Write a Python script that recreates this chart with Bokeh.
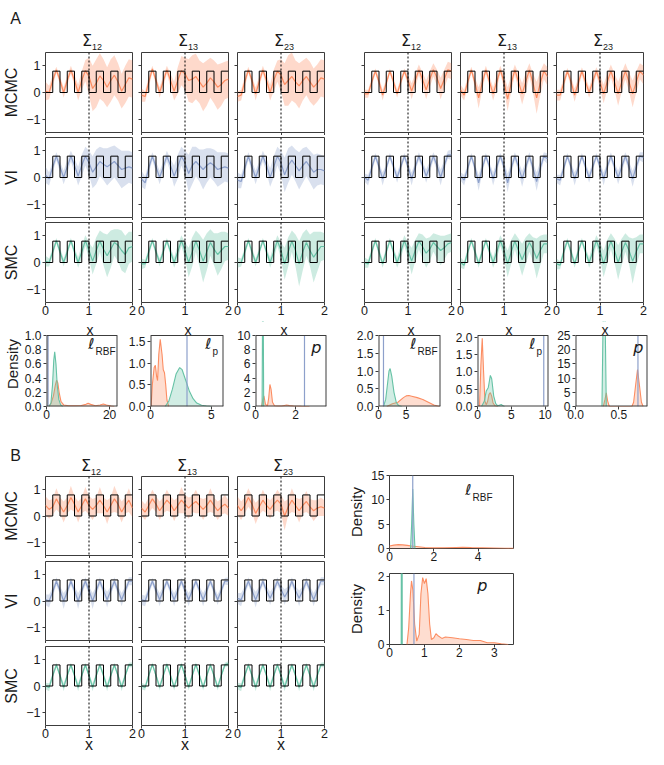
import math
from bokeh.plotting import figure
from bokeh.models import Range1d, FixedTicker, Span, Label
from bokeh.layouts import row, column
from bokeh.embed import file_html
from bokeh.resources import INLINE

ORANGE, GREEN, BLUE = "#fc8d62", "#66c2a5", "#8da0cb"
FRAME = "#3c3c3c"
INK = "#1a1a1a"
FONT = "Liberation Sans"
MATH = "DejaVu Sans"

# ---------------- data ----------------
X_GRID = [round(k / 12, 5) for k in range(25)]
TRUTH_X = [0, 1/6, 1/3, 1/2, 2/3, 5/6, 1, 7/6, 4/3, 3/2, 5/3, 11/6, 2]
TRUTH_Y = [0, 0.8, 0, 0.8, 0, 0.8, 0, 0.8, 0, 0.8, 0, 0.8, 0.8]
METHODS = ["MCMC", "VI", "SMC"]
METHOD_COLORS = [ORANGE, BLUE, GREEN]
SIGMA_SUBS = ["12", "13", "23"]

# Panel A, left dataset: [Σ12, Σ13, Σ23]
MEAN_A1_MCMC = [
    [0.05, 0.0, 0.45, 0.85, 0.45, 0.0, 0.45, 0.85, 0.45, 0.0, 0.45, 0.82, 0.6, 0.15, 0.35, 0.62, 0.45, 0.2, 0.45, 0.65, 0.4, 0.05, 0.3, 0.55, 0.5],
    [-0.1, -0.15, 0.4, 0.88, 0.45, 0.0, 0.42, 0.85, 0.45, 0.05, 0.45, 0.82, 0.7, 0.45, 0.5, 0.6, 0.4, 0.2, 0.35, 0.55, 0.4, 0.2, 0.3, 0.45, 0.5],
    [-0.15, -0.1, 0.4, 0.85, 0.45, -0.05, 0.4, 0.85, 0.45, 0.0, 0.45, 0.8, 0.65, 0.3, 0.45, 0.6, 0.4, 0.25, 0.45, 0.6, 0.4, 0.2, 0.35, 0.55, 0.5]]
HW_A1_MCMC = [
    [0.35, 0.25, 0.2, 0.12, 0.15, 0.2, 0.18, 0.15, 0.2, 0.3, 0.35, 0.4, 0.7, 0.85, 0.9, 0.85, 0.8, 0.75, 0.8, 0.75, 0.7, 0.65, 0.7, 0.7, 0.7],
    [0.25, 0.2, 0.2, 0.12, 0.15, 0.2, 0.2, 0.15, 0.25, 0.35, 0.5, 0.55, 0.6, 0.8, 0.9, 0.85, 0.8, 0.9, 0.85, 0.75, 0.8, 0.85, 0.8, 0.7, 0.7],
    [0.2, 0.2, 0.2, 0.12, 0.15, 0.25, 0.2, 0.15, 0.2, 0.3, 0.4, 0.4, 0.6, 0.8, 0.95, 0.9, 0.8, 0.85, 0.75, 0.7, 0.75, 0.7, 0.7, 0.7, 0.7]]
MEAN_A1_VI = [
    [0.1, -0.05, 0.4, 0.8, 0.4, 0.0, 0.4, 0.8, 0.45, 0.05, 0.45, 0.8, 0.55, 0.2, 0.4, 0.6, 0.5, 0.4, 0.5, 0.6, 0.45, 0.3, 0.35, 0.4, 0.35],
    [-0.05, -0.2, 0.35, 0.8, 0.4, 0.0, 0.4, 0.8, 0.45, 0.05, 0.4, 0.8, 0.55, 0.15, 0.45, 0.6, 0.45, 0.3, 0.45, 0.55, 0.45, 0.3, 0.35, 0.4, 0.35],
    [-0.1, -0.15, 0.35, 0.8, 0.4, 0.0, 0.4, 0.8, 0.45, 0.0, 0.4, 0.8, 0.55, 0.1, 0.45, 0.65, 0.45, 0.25, 0.45, 0.6, 0.4, 0.2, 0.3, 0.3, 0.25]]
HW_A1_VI = [
    [0.3, 0.25, 0.2, 0.15, 0.2, 0.25, 0.25, 0.2, 0.25, 0.35, 0.4, 0.35, 0.45, 0.6, 0.65, 0.55, 0.6, 0.7, 0.65, 0.6, 0.65, 0.7, 0.65, 0.6, 0.6],
    [0.3, 0.25, 0.2, 0.15, 0.2, 0.25, 0.2, 0.2, 0.25, 0.4, 0.45, 0.35, 0.45, 0.7, 0.7, 0.55, 0.6, 0.75, 0.65, 0.55, 0.6, 0.65, 0.6, 0.55, 0.55],
    [0.3, 0.25, 0.2, 0.15, 0.2, 0.25, 0.2, 0.2, 0.25, 0.35, 0.4, 0.35, 0.45, 0.65, 0.65, 0.55, 0.6, 0.7, 0.65, 0.55, 0.6, 0.65, 0.6, 0.55, 0.55]]
MEAN_A1_SMC = [
    [0.05, 0.0, 0.4, 0.82, 0.4, 0.0, 0.4, 0.82, 0.4, 0.0, 0.4, 0.82, 0.45, 0.05, 0.45, 0.8, 0.5, 0.25, 0.5, 0.75, 0.65, 0.45, 0.3, 0.55, 0.6],
    [-0.05, -0.05, 0.4, 0.82, 0.4, 0.0, 0.4, 0.82, 0.4, 0.0, 0.4, 0.82, 0.45, 0.0, 0.4, 0.8, 0.45, 0.05, 0.4, 0.75, 0.5, 0.3, 0.45, 0.6, 0.6],
    [0.0, 0.0, 0.4, 0.82, 0.4, 0.0, 0.4, 0.82, 0.4, 0.0, 0.4, 0.82, 0.45, -0.05, 0.4, 0.8, 0.45, -0.05, 0.4, 0.75, 0.45, 0.2, 0.4, 0.6, 0.6]]
HW_A1_SMC = [
    [0.2, 0.15, 0.15, 0.1, 0.15, 0.15, 0.15, 0.1, 0.15, 0.2, 0.25, 0.2, 0.3, 0.5, 0.5, 0.4, 0.6, 0.8, 0.7, 0.5, 0.6, 0.75, 0.7, 0.6, 0.55],
    [0.2, 0.15, 0.15, 0.1, 0.15, 0.15, 0.15, 0.1, 0.15, 0.2, 0.25, 0.2, 0.3, 0.55, 0.55, 0.4, 0.6, 0.8, 0.7, 0.5, 0.6, 0.8, 0.7, 0.55, 0.5],
    [0.2, 0.15, 0.15, 0.1, 0.15, 0.15, 0.15, 0.1, 0.15, 0.2, 0.25, 0.2, 0.3, 0.6, 0.55, 0.4, 0.6, 0.85, 0.7, 0.5, 0.6, 0.95, 0.75, 0.55, 0.5]]

# Panel A, right dataset
MEAN_A2_MCMC = [
    [-0.05, -0.05, 0.4, 0.8, 0.4, -0.1, 0.35, 0.8, 0.4, -0.05, 0.4, 0.8, 0.45, 0.05, 0.45, 0.85, 0.5, 0.1, 0.5, 0.85, 0.55, 0.15, 0.5, 0.85, 0.8],
    [0.1, -0.1, 0.4, 0.85, 0.35, -0.2, 0.35, 0.85, 0.4, -0.05, 0.4, 0.85, 0.4, -0.25, 0.35, 0.85, 0.4, -0.05, 0.4, 0.85, 0.35, -0.2, 0.35, 0.8, 0.6],
    [-0.1, -0.1, 0.35, 0.8, 0.4, -0.1, 0.35, 0.8, 0.4, 0.0, 0.4, 0.8, 0.4, -0.05, 0.4, 0.8, 0.4, -0.05, 0.4, 0.8, 0.4, -0.05, 0.4, 0.8, 0.65]]
HW_A2_MCMC = [
    [0.15, 0.15, 0.15, 0.1, 0.15, 0.2, 0.15, 0.1, 0.15, 0.15, 0.15, 0.1, 0.2, 0.3, 0.25, 0.2, 0.25, 0.35, 0.3, 0.25, 0.3, 0.4, 0.35, 0.3, 0.3],
    [0.2, 0.2, 0.2, 0.12, 0.2, 0.4, 0.25, 0.15, 0.2, 0.25, 0.25, 0.15, 0.25, 0.45, 0.3, 0.2, 0.3, 0.4, 0.35, 0.25, 0.35, 0.6, 0.45, 0.3, 0.35],
    [0.2, 0.2, 0.2, 0.12, 0.2, 0.25, 0.2, 0.15, 0.2, 0.2, 0.2, 0.15, 0.25, 0.35, 0.3, 0.25, 0.3, 0.45, 0.35, 0.3, 0.35, 0.5, 0.4, 0.3, 0.35]]
MEAN_A2_VI = [
    [0.0, -0.1, 0.35, 0.8, 0.4, -0.05, 0.35, 0.8, 0.4, 0.0, 0.4, 0.8, 0.4, -0.05, 0.4, 0.8, 0.45, 0.05, 0.4, 0.8, 0.45, 0.0, 0.45, 0.85, 0.85],
    [0.05, -0.1, 0.35, 0.8, 0.35, -0.2, 0.35, 0.8, 0.4, -0.05, 0.4, 0.8, 0.4, -0.2, 0.35, 0.8, 0.4, -0.05, 0.4, 0.8, 0.35, -0.15, 0.35, 0.8, 0.7],
    [-0.05, -0.1, 0.35, 0.8, 0.4, -0.05, 0.35, 0.8, 0.4, 0.0, 0.4, 0.8, 0.4, -0.05, 0.4, 0.8, 0.4, 0.0, 0.4, 0.8, 0.4, -0.05, 0.4, 0.8, 0.75]]
HW_A2_VI = [
    [0.15, 0.2, 0.15, 0.12, 0.15, 0.25, 0.15, 0.12, 0.15, 0.2, 0.15, 0.12, 0.15, 0.25, 0.15, 0.15, 0.15, 0.25, 0.2, 0.15, 0.2, 0.3, 0.2, 0.15, 0.2],
    [0.15, 0.2, 0.15, 0.12, 0.15, 0.3, 0.2, 0.12, 0.15, 0.25, 0.2, 0.12, 0.2, 0.35, 0.2, 0.15, 0.2, 0.3, 0.2, 0.15, 0.2, 0.35, 0.25, 0.15, 0.2],
    [0.15, 0.2, 0.15, 0.12, 0.15, 0.25, 0.15, 0.12, 0.15, 0.2, 0.15, 0.12, 0.15, 0.25, 0.15, 0.15, 0.15, 0.25, 0.2, 0.15, 0.2, 0.3, 0.2, 0.15, 0.2]]
MEAN_A2_SMC = [
    [0.0, -0.05, 0.4, 0.82, 0.4, -0.05, 0.4, 0.82, 0.4, 0.0, 0.4, 0.82, 0.45, 0.05, 0.45, 0.8, 0.6, 0.35, 0.5, 0.75, 0.6, 0.45, 0.55, 0.7, 0.75],
    [0.0, -0.1, 0.4, 0.82, 0.4, -0.05, 0.4, 0.82, 0.4, 0.0, 0.4, 0.82, 0.45, -0.05, 0.4, 0.8, 0.45, 0.1, 0.45, 0.75, 0.5, 0.15, 0.45, 0.7, 0.7],
    [-0.05, -0.1, 0.4, 0.82, 0.4, -0.05, 0.4, 0.82, 0.4, 0.0, 0.4, 0.82, 0.45, -0.05, 0.4, 0.8, 0.45, 0.0, 0.4, 0.75, 0.45, 0.05, 0.4, 0.7, 0.7]]
HW_A2_SMC = [
    [0.2, 0.15, 0.15, 0.1, 0.15, 0.15, 0.15, 0.1, 0.15, 0.2, 0.25, 0.2, 0.3, 0.5, 0.4, 0.3, 0.45, 0.55, 0.45, 0.35, 0.45, 0.55, 0.45, 0.35, 0.35],
    [0.2, 0.15, 0.15, 0.1, 0.15, 0.15, 0.15, 0.1, 0.15, 0.2, 0.25, 0.2, 0.3, 0.5, 0.45, 0.3, 0.45, 0.6, 0.5, 0.35, 0.45, 0.75, 0.55, 0.35, 0.35],
    [0.2, 0.15, 0.15, 0.1, 0.15, 0.15, 0.15, 0.1, 0.15, 0.2, 0.25, 0.2, 0.3, 0.5, 0.45, 0.3, 0.45, 0.65, 0.5, 0.35, 0.5, 0.85, 0.55, 0.35, 0.35]]

# Panel B
MEAN_B_MCMC = [
    [0.4, 0.25, 0.35, 0.65, 0.4, 0.15, 0.4, 0.7, 0.45, 0.15, 0.4, 0.65, 0.4, 0.25, 0.4, 0.6, 0.4, 0.15, 0.4, 0.65, 0.45, 0.15, 0.4, 0.6, 0.3],
    [0.3, 0.15, 0.4, 0.65, 0.45, 0.2, 0.4, 0.6, 0.45, 0.2, 0.4, 0.6, 0.45, 0.3, 0.45, 0.55, 0.4, 0.25, 0.4, 0.6, 0.4, 0.2, 0.35, 0.45, 0.3],
    [0.4, 0.2, 0.4, 0.7, 0.45, 0.1, 0.35, 0.6, 0.4, 0.25, 0.45, 0.6, 0.45, 0.0, 0.35, 0.6, 0.4, 0.2, 0.4, 0.55, 0.35, 0.2, 0.3, 0.35, 0.3]]
HW_B_MCMC = [
    [0.35, 0.35, 0.3, 0.4, 0.3, 0.4, 0.3, 0.45, 0.3, 0.4, 0.3, 0.45, 0.35, 0.4, 0.3, 0.5, 0.3, 0.45, 0.3, 0.5, 0.35, 0.4, 0.3, 0.45, 0.35],
    [0.3, 0.3, 0.3, 0.35, 0.3, 0.35, 0.3, 0.4, 0.3, 0.4, 0.3, 0.5, 0.35, 0.4, 0.3, 0.45, 0.3, 0.4, 0.3, 0.45, 0.3, 0.35, 0.3, 0.35, 0.3],
    [0.35, 0.35, 0.3, 0.35, 0.3, 0.4, 0.3, 0.4, 0.3, 0.35, 0.3, 0.4, 0.35, 0.55, 0.3, 0.45, 0.3, 0.45, 0.3, 0.4, 0.3, 0.4, 0.3, 0.35, 0.3]]
MEAN_B_VI = [
    [0.05, 0.0, 0.35, 0.75, 0.4, 0.0, 0.35, 0.75, 0.4, 0.0, 0.4, 0.75, 0.4, 0.0, 0.4, 0.75, 0.4, 0.05, 0.4, 0.75, 0.4, 0.05, 0.4, 0.75, 0.75],
    [0.05, 0.0, 0.4, 0.75, 0.4, 0.05, 0.4, 0.75, 0.4, 0.05, 0.4, 0.75, 0.4, 0.05, 0.4, 0.75, 0.4, 0.05, 0.4, 0.75, 0.4, 0.05, 0.4, 0.75, 0.75],
    [0.1, 0.05, 0.4, 0.75, 0.4, 0.05, 0.4, 0.75, 0.4, 0.1, 0.4, 0.75, 0.45, 0.15, 0.4, 0.75, 0.4, 0.1, 0.4, 0.75, 0.4, 0.05, 0.4, 0.75, 0.75]]
HW_B_VI = [
    [0.2, 0.25, 0.15, 0.15, 0.15, 0.3, 0.15, 0.15, 0.15, 0.3, 0.15, 0.15, 0.15, 0.3, 0.15, 0.15, 0.15, 0.3, 0.15, 0.15, 0.15, 0.25, 0.15, 0.15, 0.15],
    [0.2, 0.2, 0.15, 0.12, 0.15, 0.25, 0.15, 0.12, 0.15, 0.25, 0.15, 0.12, 0.15, 0.25, 0.15, 0.12, 0.15, 0.25, 0.15, 0.12, 0.15, 0.2, 0.15, 0.12, 0.15],
    [0.2, 0.25, 0.15, 0.15, 0.15, 0.3, 0.15, 0.15, 0.15, 0.25, 0.15, 0.15, 0.15, 0.3, 0.15, 0.15, 0.15, 0.3, 0.15, 0.15, 0.15, 0.25, 0.15, 0.15, 0.15]]
MEAN_B_SMC = [
    [0.0, -0.05, 0.4, 0.8, 0.4, -0.05, 0.4, 0.8, 0.4, -0.05, 0.4, 0.8, 0.4, -0.05, 0.4, 0.8, 0.4, -0.05, 0.4, 0.8, 0.4, -0.05, 0.4, 0.8, 0.8],
    [0.0, -0.05, 0.4, 0.82, 0.4, -0.05, 0.4, 0.82, 0.4, -0.05, 0.4, 0.82, 0.4, -0.05, 0.4, 0.82, 0.4, -0.05, 0.4, 0.8, 0.4, -0.05, 0.4, 0.8, 0.85],
    [0.0, -0.05, 0.4, 0.8, 0.4, -0.05, 0.4, 0.8, 0.4, -0.05, 0.4, 0.8, 0.4, -0.05, 0.4, 0.8, 0.4, -0.05, 0.4, 0.8, 0.4, -0.05, 0.4, 0.8, 0.8]]
HW_B_SMC = [
    [0.12, 0.15, 0.1, 0.08, 0.1, 0.15, 0.1, 0.08, 0.1, 0.15, 0.1, 0.08, 0.1, 0.15, 0.1, 0.08, 0.1, 0.15, 0.1, 0.08, 0.1, 0.15, 0.1, 0.08, 0.1],
    [0.12, 0.12, 0.1, 0.08, 0.1, 0.12, 0.1, 0.08, 0.1, 0.12, 0.1, 0.08, 0.1, 0.12, 0.1, 0.08, 0.1, 0.12, 0.1, 0.08, 0.1, 0.12, 0.1, 0.08, 0.1],
    [0.12, 0.15, 0.1, 0.08, 0.1, 0.15, 0.1, 0.08, 0.1, 0.15, 0.1, 0.08, 0.1, 0.15, 0.1, 0.08, 0.1, 0.15, 0.1, 0.08, 0.1, 0.15, 0.1, 0.08, 0.1]]

# Densities (orange = MCMC, green = SMC, blue line = VI)
D1_OR_X = [0.8, 1.5, 2.2, 2.8, 3.2, 3.6, 4.0, 4.6, 5.5, 7, 9, 11, 12.5, 13.2, 14, 15.5, 17, 18, 19, 20.5, 21.5]
D1_OR_Y = [0, 0.05, 0.15, 0.3, 0.37, 0.33, 0.2, 0.07, 0.02, 0.01, 0.01, 0.015, 0.03, 0.045, 0.03, 0.01, 0.02, 0.035, 0.02, 0.005, 0]
D1_GR_X = [0.8, 1.4, 1.9, 2.3, 2.6, 3.0, 3.4, 3.9, 4.5, 5.2]
D1_GR_Y = [0, 0.05, 0.3, 0.65, 0.77, 0.6, 0.3, 0.1, 0.02, 0]
D1_VI = 0.5
D2_OR_X = [0.05, 0.15, 0.3, 0.4, 0.5, 0.58, 0.68, 0.8, 0.95, 1.05, 1.15, 1.25, 1.35, 1.5]
D2_OR_Y = [0, 0.5, 0.9, 0.95, 0.7, 0.6, 1.2, 1.55, 1.2, 0.85, 0.78, 0.5, 0.15, 0]
D2_GR_X = [1.2, 1.5, 1.8, 2.1, 2.4, 2.6, 2.9, 3.2, 3.5, 3.8, 4.2, 4.6, 5.0]
D2_GR_Y = [0, 0.12, 0.4, 0.75, 0.9, 0.85, 0.6, 0.35, 0.18, 0.08, 0.03, 0.01, 0]
D2_VI = 3.0
D3_OR_X = [0.3, 0.37, 0.42, 0.5, 0.6, 0.66, 0.72, 0.78, 0.85, 0.95, 1.1, 1.3, 1.45, 1.55, 1.7, 1.9, 2.3, 2.7]
D3_OR_Y = [0, 1.0, 1.5, 0.3, 0.1, 1.2, 3.1, 2.4, 0.6, 0.1, 0.05, 0.05, 0.15, 0.2, 0.12, 0.05, 0.02, 0]
D3_GR_X = [0.33, 0.35, 0.37, 0.39, 0.41]
D3_GR_Y = [0, 12, 45, 12, 0]
D3_VI = 2.45
D4_OR_X = [1.5, 2.5, 3.5, 4.5, 5.0, 5.5, 6.0, 7.0, 8.0, 9.0, 10.0, 11.0]
D4_OR_Y = [0, 0.08, 0.12, 0.25, 0.3, 0.31, 0.29, 0.25, 0.2, 0.12, 0.04, 0]
D4_GR_X = [0.9, 1.3, 1.6, 1.9, 2.1, 2.4, 2.8, 3.2, 3.6, 4.2]
D4_GR_Y = [0, 0.2, 0.6, 1.0, 1.07, 0.85, 0.4, 0.12, 0.03, 0]
D4_VI = 0.9
D5_OR_X = [0.3, 0.5, 0.7, 0.9, 1.1, 1.3, 1.5, 1.7, 1.9, 2.1, 2.3, 2.6, 3.0]
D5_OR_Y = [0, 1.2, 1.97, 1.0, 0.15, 0.05, 0.15, 0.35, 0.4, 0.3, 0.1, 0.02, 0]
D5_GR_X = [0.6, 1.0, 1.3, 1.6, 1.9, 2.1, 2.4, 2.7, 3.0, 3.3, 3.5, 3.7, 4.0]
D5_GR_Y = [0, 0.15, 0.45, 0.55, 0.9, 0.8, 0.3, 0.08, 0.02, 0.04, 0.06, 0.03, 0]
D5_VI = 9.8
D6_OR_X = [0.32, 0.34, 0.355, 0.37, 0.39, 0.65, 0.67, 0.695, 0.715, 0.735, 0.76, 0.78]
D6_OR_Y = [0, 2.5, 4.8, 2.0, 0, 0, 1.5, 8, 13, 8, 1.5, 0]
D6_GR_X = [0.305, 0.318, 0.33, 0.342, 0.355]
D6_GR_Y = [0, 30, 60, 30, 0]
D6_VI = 0.72
DB1_OR_X = [0, 0.2, 0.4, 0.6, 0.8, 1.0, 1.3, 1.6, 2.0, 2.5, 3.0, 3.3, 3.7, 4.2, 4.7, 5.2, 5.6]
DB1_OR_Y = [0.5, 0.7, 0.8, 0.75, 0.65, 0.5, 0.35, 0.2, 0.12, 0.15, 0.22, 0.25, 0.2, 0.15, 0.1, 0.05, 0.02]
DB1_GR_X = [0.95, 1.0, 1.05, 1.1, 1.15]
DB1_GR_Y = [0, 5, 12.2, 5, 0]
DB1_VI = 1.05
DB2_OR_X = [0.5, 0.55, 0.6, 0.63, 0.67, 0.72, 0.78, 0.85, 0.9, 0.95, 1.0, 1.05, 1.1, 1.15, 1.2, 1.27, 1.33, 1.4, 1.5, 1.6, 1.8, 2.0, 2.2, 2.4, 2.6, 2.8, 3.0, 3.2, 3.4]
DB2_OR_Y = [0, 0.5, 1.5, 1.88, 1.6, 0.6, 0.1, 0.3, 1.5, 1.98, 1.8, 1.95, 1.5, 0.6, 0.15, 0.2, 0.32, 0.25, 0.18, 0.22, 0.2, 0.17, 0.15, 0.12, 0.12, 0.05, 0.05, 0.02, 0.0]
DB2_GR_X = [0.335, 0.345, 0.35, 0.355, 0.365]
DB2_GR_Y = [0, 10, 40, 10, 0]
DB2_VI = 0.7


# ---------------- helpers ----------------
def base_fig(fw, fh, bl, br, bt, bb, xr, yr, tick_size="12px"):
    p = figure(frame_width=fw, frame_height=fh, min_border_left=bl, min_border_right=br,
               min_border_top=bt, min_border_bottom=bb, x_range=Range1d(*xr), y_range=Range1d(*yr),
               output_backend="svg", toolbar_location=None)
    p.xgrid.visible = False
    p.ygrid.visible = False
    p.outline_line_color = FRAME
    p.outline_line_width = 1
    p.background_fill_color = "white"
    p.border_fill_color = "white"
    for ax in (p.xaxis[0], p.yaxis[0]):
        ax.axis_line_color = None
        ax.major_tick_line_color = FRAME
        ax.major_tick_out = 3
        ax.major_tick_in = 0
        ax.minor_tick_out = 0
        ax.minor_tick_in = 0
        ax.major_label_text_font = FONT
        ax.major_label_text_font_size = tick_size
        ax.major_label_text_color = INK
        ax.axis_label_text_font = FONT
        ax.axis_label_text_font_style = "normal"
        ax.axis_label_text_color = INK
    p.xaxis.major_label_standoff = 0
    p.yaxis.major_label_standoff = 2
    return p


def set_ticks(ax, ticks, labels, show):
    ax.ticker = FixedTicker(ticks=ticks)
    if show:
        ax.major_label_overrides = {t: s for t, s in zip(ticks, labels)}
    else:
        ax.major_label_overrides = {t: "" for t in ticks}
        ax.major_label_text_font_size = "0px"
        ax.major_label_standoff = 0


def add_text(p, geo, px, py, text, size, font=FONT, align="center", style="normal"):
    fx, fy, fw, fh, (x0, x1), (y0, y1) = geo
    x = x0 + (px - fx) / fw * (x1 - x0)
    y = y1 - (py - fy) / fh * (y1 - y0)
    p.add_layout(Label(x=x, y=y, text=text, text_font=font, text_font_size=f"{size}px",
                       text_align=align, text_baseline="middle",
                       text_font_style=style, text_color=INK))


def strip_fig(x0, x1, y0, y1):
    p = figure(width=x1 - x0, height=y1 - y0, x_range=Range1d(x0, x1), y_range=Range1d(y1, y0),
               x_axis_type=None, y_axis_type=None, min_border_left=0, min_border_right=0,
               min_border_top=0, min_border_bottom=0, output_backend="svg", toolbar_location=None)
    p.outline_line_color = None
    p.background_fill_color = "white"
    p.border_fill_color = "white"
    return p


def strip_text(p, px, py, text, size, font=FONT, align="center"):
    p.add_layout(Label(x=px, y=py, text=text, text_font=font, text_font_size=f"{size}px",
                       text_align=align, text_baseline="middle", text_color=INK))


GP_W = 87


def gp_rows(datasets, lefts, bounds, tops, fh, vedges, xlabel_axis):
    rows_out = []
    for r in range(3):
        figs = []
        for c in range(len(lefts)):
            means, hws = datasets[c // 3][r]
            k = c % 3
            bl = lefts[c] - bounds[c]
            br = bounds[c + 1] - (lefts[c] + GP_W)
            bt = tops[r] - vedges[r]
            bb = vedges[r + 1] - (tops[r] + fh)
            p = base_fig(GP_W, fh, bl, br, bt, bb, (0, 2), (-1.5, 1.5), tick_size="12.5px")
            col = METHOD_COLORS[r]
            m, h = means[k], hws[k]
            lo = [a - b for a, b in zip(m, h)]
            hi = [a + b for a, b in zip(m, h)]
            p.varea(x=X_GRID, y1=lo, y2=hi, fill_color=col, fill_alpha=0.33)
            p.line(x=X_GRID, y=m, line_color=col, line_width=1.2)
            p.step(x=TRUTH_X, y=TRUTH_Y, mode="after", line_color="black", line_width=1)
            p.add_layout(Span(location=1, dimension="height", line_color="black",
                              line_width=1, line_dash="2 2"))
            set_ticks(p.xaxis[0], [0, 1, 2], ["0", "1", "2"], r == 2)
            set_ticks(p.yaxis[0], [-1, 0, 1], ["\u22121", "0", "1"], c == 0)
            if r == 2 and xlabel_axis:
                p.xaxis.axis_label = "x"
                p.xaxis.axis_label_text_font_size = "16px"
                p.xaxis.axis_label_standoff = -5
            if c == 0:
                p.yaxis.axis_label = METHODS[r]
                p.yaxis.axis_label_text_font_size = "16px"
                p.yaxis.axis_label_standoff = 3
            figs.append(p)
        rows_out.append(row(*figs))
    return rows_out


def sigma_titles(strip, lefts, sig_py, sub_py):
    for c, L in enumerate(lefts):
        cx = L + GP_W / 2 + 3
        strip_text(strip, cx, sig_py, "\u03a3", 16, font=MATH, align="right")
        strip_text(strip, cx, sub_py, SIGMA_SUBS[c % 3], 9, align="left")


def dens_fig(frame_px, ext_top, bl, br, bt, bb, xr, ymax, xt, xtl, yt, ytl, orange, green, vi,
             ylabel=None, ylabel_standoff=3):
    """frame_px = (left, top, width, height) of the visible box; ext_top = page y where the
    plotting frame really starts (room for the 'x' label of the panel above)."""
    fx, fy, fw, fh = frame_px
    top = ext_top if ext_top is not None else fy
    full_h = fy + fh - top
    ytop = ymax * full_h / fh
    p = base_fig(fw, full_h, bl, br, bt, bb, xr, (0, ytop))
    for (xs, ys), col in ((orange, ORANGE), (green, GREEN)):
        p.varea(x=xs, y1=0, y2=ys, fill_color=col, fill_alpha=0.3)
        p.line(x=xs, y=ys, line_color=col, line_width=1.1)
    p.segment(x0=[vi], y0=[0], x1=[vi], y1=[ymax], line_color=BLUE, line_width=1.2)
    if ext_top is not None:
        # mask above the visible box, then draw the box by hand
        p.quad(left=[xr[0]], right=[xr[1]], bottom=[ymax], top=[ytop],
               fill_color="white", line_color=None)
        p.outline_line_color = None
        p.multi_line(xs=[[xr[0], xr[0]], [xr[1], xr[1]], [xr[0], xr[1]]],
                     ys=[[0, ymax], [0, ymax], [0, 0]], line_color=FRAME, line_width=2)
        p.line(x=[xr[0], xr[1]], y=[ymax, ymax], line_color=FRAME, line_width=1)
    set_ticks(p.xaxis[0], xt, xtl, True)
    set_ticks(p.yaxis[0], yt, ytl, True)
    if ylabel:
        p.yaxis.axis_label = ylabel
        p.yaxis.axis_label_text_font_size = "15px"
        p.yaxis.axis_label_standoff = ylabel_standoff
    geo = (fx, top, fw, full_h, xr, (0, ytop))
    return p, geo


def ell_label(p, geo, right_px, py, sub):
    add_text(p, geo, right_px, py, "\u2113", 15, font=MATH, align="right", style="italic")
    add_text(p, geo, right_px + 1, py + 8, sub, 10, align="left")


# ---------------- section A ----------------
A_LEFTS = [45, 141, 237, 364, 460, 556]
A_BOUNDS = [0, 137, 233, 344, 456, 552, 656]
A_TOPS = [52, 137, 222]
A_VEDGES = [51, 135, 220, 321]
A_DATA = [
    [(MEAN_A1_MCMC, HW_A1_MCMC), (MEAN_A1_VI, HW_A1_VI), (MEAN_A1_SMC, HW_A1_SMC)],
    [(MEAN_A2_MCMC, HW_A2_MCMC), (MEAN_A2_VI, HW_A2_VI), (MEAN_A2_SMC, HW_A2_SMC)],
]
strip_a = strip_fig(0, 656, 0, 51)
strip_text(strip_a, 15, 18, "A", 16)
sigma_titles(strip_a, A_LEFTS, 40, 46)
a_rows = gp_rows(A_DATA, A_LEFTS, A_BOUNDS, A_TOPS, 80, A_VEDGES, xlabel_axis=False)

DT, DH, EXT = 335, 71, 321
XLAB_PY = 329.5
d1, d1g = dens_fig((45, DT, 71, DH), EXT, 45, 8, 0, 20, (0, 22.5), 1.0, [0, 20], ["0", "20"],
                   [0, 0.2, 0.4, 0.6, 0.8, 1.0], ["0.0", "0.2", "0.4", "0.6", "0.8", "1.0"],
                   (D1_OR_X, D1_OR_Y), (D1_GR_X, D1_GR_Y), D1_VI, ylabel="Density", ylabel_standoff=1)
ell_label(d1, d1g, 93, 343, "RBF")

d2, d2g = dens_fig((147, DT, 73, DH), EXT, 23, 8, 0, 20, (0, 6.0), 1.64, [0, 5], ["0", "5"],
                   [0, 0.5, 1.0, 1.5], ["0.0", "0.5", "1.0", "1.5"],
                   (D2_OR_X, D2_OR_Y), (D2_GR_X, D2_GR_Y), D2_VI)
ell_label(d2, d2g, 208, 343, "p")

d3, d3g = dens_fig((252, DT, 71, DH), EXT, 24, 22, 0, 20, (0, 3.55), 10, [0, 2], ["0", "2"],
                   [0, 2, 4, 6, 8, 10], ["0", "2", "4", "6", "8", "10"],
                   (D3_OR_X, D3_OR_Y), (D3_GR_X, D3_GR_Y), D3_VI)
add_text(d3, d3g, 318, 347, "p", 16, font=MATH, align="right", style="italic")

d4, d4g = dens_fig((375, DT, 62, DH), EXT, 30, 12, 0, 20, (0, 11.2), 2.0, [0, 5], ["0", "5"],
                   [0, 0.5, 1.0, 1.5, 2.0], ["0.0", "0.5", "1.0", "1.5", "2.0"],
                   (D4_OR_X, D4_OR_Y), (D4_GR_X, D4_GR_Y), D4_VI)
ell_label(d4, d4g, 413, 343, "RBF")

d5, d5g = dens_fig((472, DT, 71, DH), EXT, 23, 4, 0, 20, (0, 10.5), 2.05, [0, 5, 10], ["0", "5", "10"],
                   [0, 0.5, 1.0, 1.5, 2.0], ["0.0", "0.5", "1.0", "1.5", "2.0"],
                   (D5_OR_X, D5_OR_Y), (D5_GR_X, D5_GR_Y), D5_VI)
ell_label(d5, d5g, 530, 343, "p")

d6, d6g = dens_fig((570, DT, 72, DH), EXT, 23, 14, 0, 20, (0, 0.83), 25, [0, 0.5], ["0.0", "0.5"],
                   [0, 5, 10, 15, 20, 25], ["0", "5", "10", "15", "20", "25"],
                   (D6_OR_X, D6_OR_Y), (D6_GR_X, D6_GR_Y), D6_VI)
add_text(d6, d6g, 638, 347, "p", 16, font=MATH, align="right", style="italic")

# "x" labels of the SMC panels sit in the white band on top of each density panel
for dfig, dgeo, L in zip((d1, d2, d3, d4, d5, d6), (d1g, d2g, d3g, d4g, d5g, d6g), A_LEFTS):
    add_text(dfig, dgeo, L + GP_W / 2, XLAB_PY, "x", 14)

a_dens = row(d1, d2, d3, d4, d5, d6)

# ---------------- section B ----------------
B_LEFTS = [44, 140, 236]
B_BOUNDS = [0, 135, 231, 340]
B_TOPS = [476, 561, 646]
B_VEDGES = [475, 558, 643, 760]
B_DATA = [[(MEAN_B_MCMC, HW_B_MCMC), (MEAN_B_VI, HW_B_VI), (MEAN_B_SMC, HW_B_SMC)]]
strip_b = strip_fig(0, 340, 426, 475)
strip_text(strip_b, 15, 455, "B", 16)
sigma_titles(strip_b, B_LEFTS, 465, 471)
b_rows = gp_rows(B_DATA, B_LEFTS, B_BOUNDS, B_TOPS, 79, B_VEDGES, xlabel_axis=True)

b1, b1g = dens_fig((388, 475, 124, 73), None, 48, 20, 49, 20, (0, 5.6), 15, [0, 2, 4], ["0", "2", "4"],
                   [0, 5, 10, 15], ["0", "5", "10", "15"],
                   (DB1_OR_X, DB1_OR_Y), (DB1_GR_X, DB1_GR_Y), DB1_VI, ylabel="Density", ylabel_standoff=3)
ell_label(b1, b1g, 470, 489, "RBF")

b2, b2g = dens_fig((388, 573, 124, 71), None, 48, 20, 5, 20, (0, 3.55), 2.1, [0, 1, 2, 3],
                   ["0", "1", "2", "3"], [0, 1, 2], ["0", "1", "2"],
                   (DB2_OR_X, DB2_OR_Y), (DB2_GR_X, DB2_GR_Y), DB2_VI, ylabel="Density", ylabel_standoff=10)
add_text(b2, b2g, 486, 585, "p", 16, font=MATH, align="right", style="italic")

section_b = row(column(strip_b, *b_rows), column(b1, b2))

layout = column(strip_a, *a_rows, a_dens, section_b)
open("out.html", "w").write(file_html(layout, INLINE))
